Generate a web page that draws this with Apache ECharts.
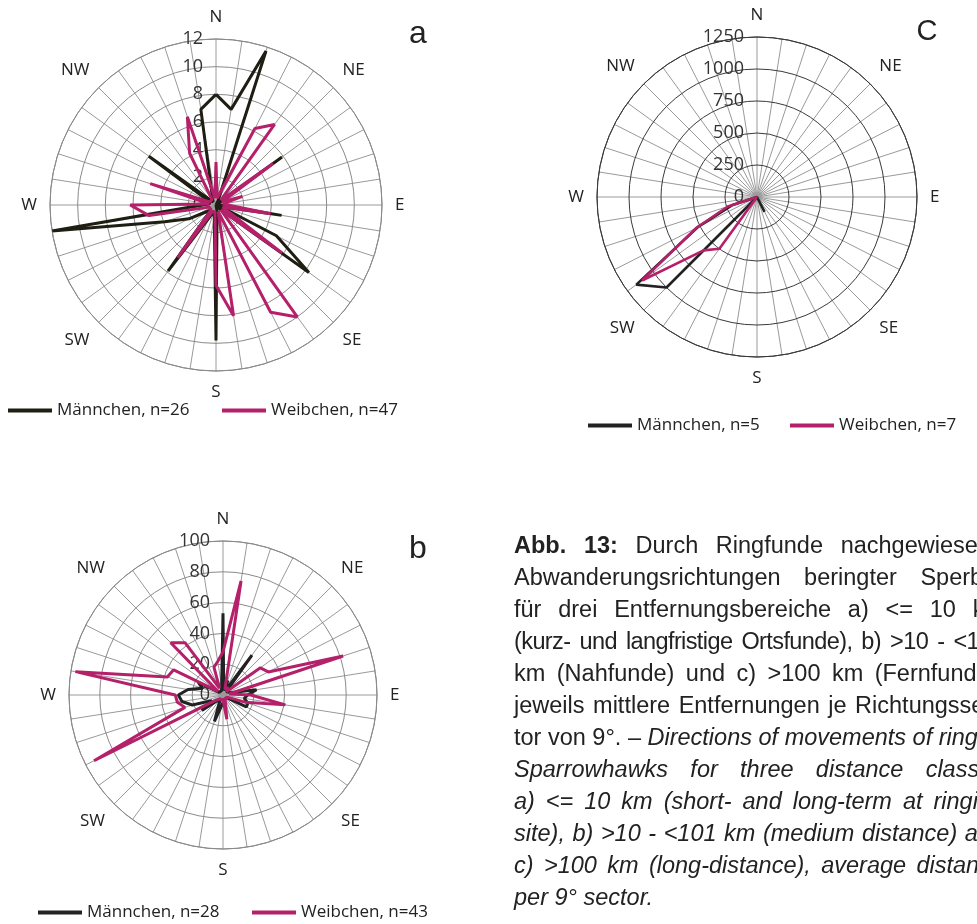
<!DOCTYPE html>
<html>
<head>
<meta charset="utf-8">
<script src="https://cdn.jsdelivr.net/npm/echarts@6/dist/echarts.min.js"></script>
<style>
  html, body { margin: 0; padding: 0; width: 977px; height: 924px; overflow: hidden; background: #fff; }
  #chart { position: absolute; left: 0; top: 0; width: 977px; height: 924px; }
  #caption {
    position: absolute; left: 514px; top: 529px; width: 490px;
    font-family: "Liberation Sans", Arial, sans-serif; font-size: 23.5px; line-height: 32px; color: #222;
  }
  #caption div { white-space: nowrap; text-align: justify; text-align-last: justify; }
  #caption div.last { text-align-last: left; }
  #caption div.tight { letter-spacing: -0.6px; word-spacing: -3px; }
</style>
</head>
<body>
<div id="chart"></div>
<div id="caption">
  <div><b>Abb. 13:</b> Durch Ringfunde nachgewiesene</div>
  <div>Abwanderungsrichtungen beringter Sperber</div>
  <div>für drei Entfernungsbereiche a) &lt;= 10 km</div>
  <div class="tight">(kurz- und langfristige Ortsfunde), b) &gt;10 - &lt;101</div>
  <div>km (Nahfunde) und c) &gt;100 km (Fernfunde);</div>
  <div>jeweils mittlere Entfernungen je Richtungssek-</div>
  <div>tor von 9°. – <i>Directions of movements of ringed</i></div>
  <div><i>Sparrowhawks for three distance classes</i></div>
  <div><i>a) &lt;= 10 km (short- and long-term at ringing</i></div>
  <div><i>site), b) &gt;10 - &lt;101 km (medium distance) and</i></div>
  <div><i>c) &gt;100 km (long-distance), average distance</i></div>
  <div class="last"><i>per 9° sector.</i></div>
</div>
<script>
// 40 Richtungssektoren zu je 9°, im Uhrzeigersinn ab N
const sectorStep = 9
const compass = ['N', 'NE', 'E', 'SE', 'S', 'SW', 'W', 'NW']

// a) <= 10 km
const aMale = [8, 7, 11.7, 0.3, 0, 0, 5.9, 0, 0, 0, 0.3, 4.8, 0.3, 4.9, 8.3, 0.5, 0, 0, 0, 0.5,
  9.8, 0.8, 0.5, 0.5, 5.9, 0.5, 0.8, 2.2, 3.9, 12, 1, 0.5, 0.5, 0.5, 6, 0.3, 0.3, 0.3, 1, 7]
const aFemale = [3.1, 0.5, 0.5, 6.2, 7.2, 0.5, 5.1, 0.5, 2, 0.5, 0.5, 4, 0.5, 0.5, 5.9, 0.5, 10, 8.7, 0.5, 8.1,
  5.8, 0.5, 0.5, 0.5, 4.7, 0.5, 0.5, 0.5, 0.5, 4.9, 6.2, 0.5, 5, 0.5, 0.5, 0.5, 0.5, 4.2, 6.7, 0.5]
const aTicks = [0, 12, 2]

// c) > 100 km
const cMale = [0, 0, 0, 0, 0, 0, 0, 0, 0, 0, 0, 0, 0, 0, 0, 0, 0, 130, 0, 0,
  0, 0, 0, 0, 0, 1000, 1165, 520, 200, 0, 0, 0, 0, 0, 0, 0, 0, 0, 0, 0]
const cFemale = [0, 0, 0, 0, 0, 0, 0, 0, 0, 0, 0, 0, 0, 0, 0, 0, 0, 0, 0, 0,
  0, 0, 0, 0, 500, 590, 1110, 530, 240, 0, 0, 0, 0, 0, 0, 0, 0, 0, 0, 0]
const cTicks = [0, 1250, 250]

// b) > 10 - < 101 km
const bMale = [53, 3, 10, 3, 32, 3, 3, 3, 5, 22, 16, 14, 17, 17, 3, 3, 3, 3, 3, 3,
  5, 5, 18, 5, 3, 3, 17, 8, 21, 27, 29, 23, 14, 18, 3, 3, 3, 3, 3, 3]
const bFemale = [28, 75, 4, 3, 6, 3, 30, 33, 82, 4, 18, 41, 15, 3, 3, 3, 3, 3, 3, 16,
  3, 3, 3, 3, 3, 4, 6, 94, 26, 30, 31, 97, 38, 36, 4, 48, 42, 5, 19, 22]
const bTicks = [0, 100, 20]

const BLACK = '#1f1e12'
const PINK = '#b5206a'
const FONT = 'Open Sans'

function ring(vals) {
  const pts = vals.map((v, i) => [v, i * sectorStep])
  pts.push([vals[0], 360])
  return pts
}

function compassLabel(v) {
  return (v % 45 === 0 && v < 360) ? compass[v / 45] : ''
}

function angleAxis(idx, ringColor, spokeColor) {
  return {
    polarIndex: idx, type: 'value', min: 0, max: 360, interval: sectorStep,
    startAngle: 90, clockwise: true,
    axisLine: { show: true, lineStyle: { color: ringColor, width: 1 } },
    axisTick: { show: false },
    axisLabel: { formatter: compassLabel, fontSize: 17, color: '#222', fontFamily: FONT, margin: 13 },
    splitLine: { show: true, lineStyle: { color: spokeColor, width: 1 } }
  }
}

function radiusAxis(idx, ticks, ringColor) {
  return {
    polarIndex: idx, type: 'value', min: ticks[0], max: ticks[1], interval: ticks[2],
    axisLine: { show: false },
    axisTick: { show: false },
    axisLabel: { fontSize: 18, color: '#333', fontFamily: FONT, margin: 13, formatter: v => String(v) },
    splitLine: { show: true, lineStyle: { color: ringColor, width: 1 } },
    z: 1
  }
}

function line(name, idx, vals, color, width) {
  return {
    name: name, type: 'line', coordinateSystem: 'polar', polarIndex: idx,
    data: ring(vals), symbol: 'none', silent: true,
    lineStyle: { color: color, width: width },
    itemStyle: { color: color }
  }
}

function legend(name, left, top) {
  return {
    data: [name], left: left, top: top, padding: 0,
    icon: 'rect', itemWidth: 44, itemHeight: 4,
    textStyle: { fontSize: 17, color: '#222', fontFamily: FONT }
  }
}

const chart = echarts.init(document.getElementById('chart'))
chart.setOption({
  animation: false,
  backgroundColor: '#fff',
  polar: [
    { center: [216, 205], radius: 166 },
    { center: [757, 197], radius: 160 },
    { center: [223, 695], radius: 154 }
  ],
  angleAxis: [
    angleAxis(0, '#8a8a8a', '#9a9a9a'),
    angleAxis(1, '#3a3a3a', '#9a9a9a'),
    angleAxis(2, '#8a8a8a', '#9a9a9a')
  ],
  radiusAxis: [
    radiusAxis(0, aTicks, '#8a8a8a'),
    radiusAxis(1, cTicks, '#3a3a3a'),
    radiusAxis(2, bTicks, '#8a8a8a')
  ],
  legend: [
    legend('Männchen, n=26', 8, 402),
    legend('Weibchen, n=47', 222, 402),
    legend('Männchen, n=5', 588, 417),
    legend('Weibchen, n=7', 790, 417),
    legend('Männchen, n=28', 38, 904),
    legend('Weibchen, n=43', 252, 904)
  ],
  graphic: [
    { type: 'text', style: { x: 418, y: 34, text: 'a', fontSize: 32, fontFamily: 'Liberation Sans', fill: '#222', textAlign: 'center', textVerticalAlign: 'middle' } },
    { type: 'text', style: { x: 927, y: 32, text: 'C', fontSize: 29, fontFamily: 'Liberation Sans', fill: '#222', textAlign: 'center', textVerticalAlign: 'middle' } },
    { type: 'text', style: { x: 418, y: 549, text: 'b', fontSize: 32, fontFamily: 'Liberation Sans', fill: '#222', textAlign: 'center', textVerticalAlign: 'middle' } }
  ],
  series: [
    line('Männchen, n=26', 0, aMale, BLACK, 3),
    line('Weibchen, n=47', 0, aFemale, PINK, 3),
    line('Männchen, n=5', 1, cMale, '#222222', 2.6),
    line('Weibchen, n=7', 1, cFemale, PINK, 2.6),
    line('Männchen, n=28', 2, bMale, '#222222', 3),
    line('Weibchen, n=43', 2, bFemale, PINK, 3)
  ]
})
</script>
</body>
</html>
